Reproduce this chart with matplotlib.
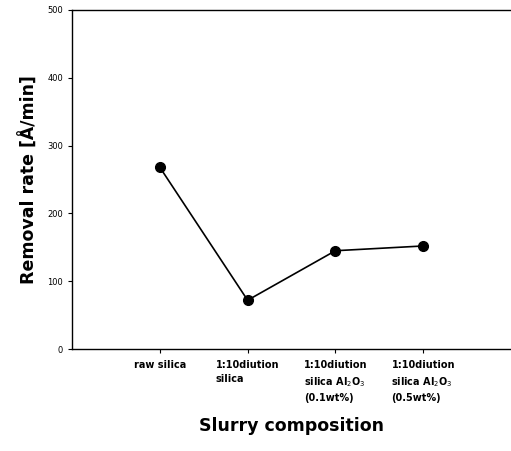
import numpy as np
import matplotlib
matplotlib.use('Agg')
import matplotlib.pyplot as plt

plt.rcParams['font.family'] = ['DejaVu Sans']

# slurry compositions and measured removal rate
categories = ['raw silica',
              '1:10diution\nsilica',
              '1:10diution\nsilica Al$_2$O$_3$\n(0.1wt%)',
              '1:10diution\nsilica Al$_2$O$_3$\n(0.5wt%)']
removal_rate = [268, 72, 145, 152]
y_ticks = [0, 100, 200, 300, 400, 500]

fig = plt.figure(figsize=(5.11, 4.51), dpi=100)
ax = fig.add_axes([0.141, 0.226, 0.859, 0.752])

x = np.arange(len(categories))
ax.plot(x, removal_rate, color='black', lw=1.2, marker='o', ms=7,
        mfc='black', mec='black')

ax.set_xlim(-1, 4)
ax.set_ylim(0, 500)
ax.set_yticks(y_ticks)
ax.set_yticklabels([str(v) for v in y_ticks], fontsize=6)
ax.set_xticks(x)
ax.set_xticklabels(categories, fontsize=7, fontweight='bold',
                   multialignment='left', va='top', linespacing=1.5)
ax.tick_params(axis='both', direction='out', length=3, width=0.8)
ax.tick_params(axis='x', pad=5)

ax.spines['right'].set_visible(False)
for s in ['left', 'bottom', 'top']:
    ax.spines[s].set_linewidth(1.0)

ax.set_ylabel('Removal rate [Å/min]', fontsize=12.5, fontweight='bold', labelpad=6)
ax.set_xlabel('Slurry composition', fontsize=12.5, fontweight='bold', labelpad=10)

fig.savefig('out.png', dpi=100)
